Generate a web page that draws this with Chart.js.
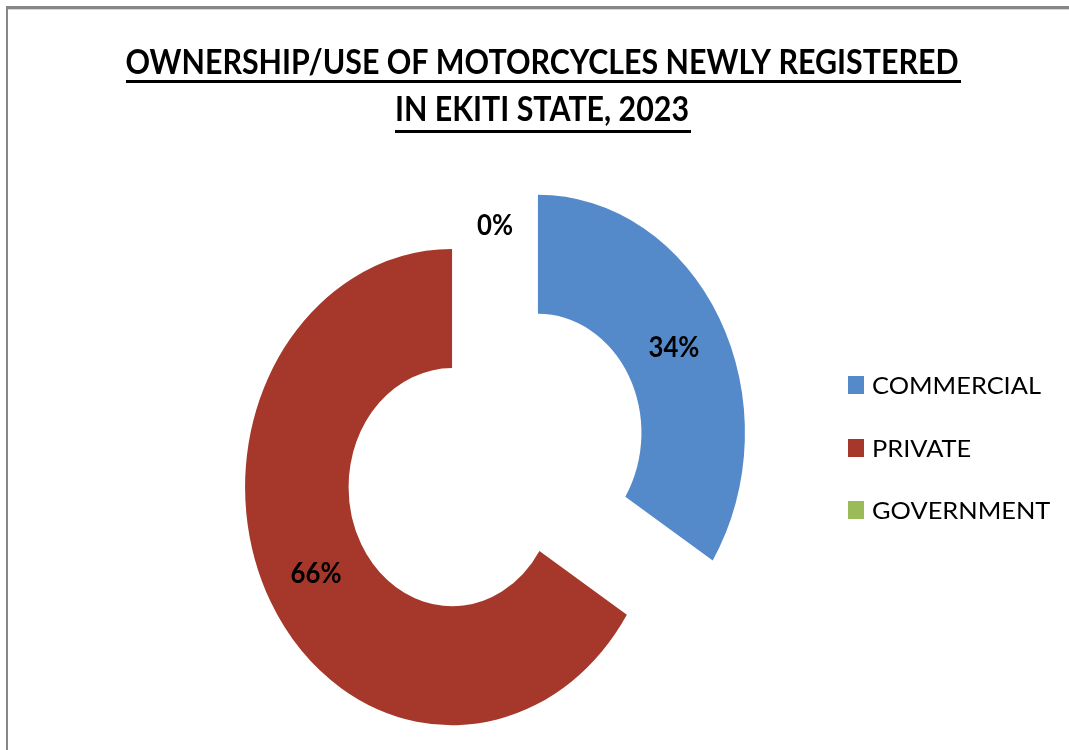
<!DOCTYPE html>
<html>
<head>
<meta charset="utf-8">
<script src="https://cdn.jsdelivr.net/npm/chart.js@4/dist/chart.umd.min.js"></script>
<style>
  html, body { margin: 0; padding: 0; background: #fff; }
  #wrap { position: relative; width: 1069px; height: 750px; overflow: hidden; }
  #frame {
    position: absolute; left: 6px; top: 6px; width: 1100px; height: 800px;
    border-top: 3px solid #878787; border-left: 2px solid #878787;
    box-shadow: inset 0 1px 0 #d6d6d6;
  }
  #chart { position: absolute; left: 0; top: 0; }
</style>
</head>
<body>
<div id="wrap">
  <div id="frame"></div>
  <canvas id="chart" width="1069" height="750"></canvas>
</div>
<script>
// data
const categories = ['COMMERCIAL', 'PRIVATE', 'GOVERNMENT'];
const shares = [34, 66, 0];
const colours = ['#558ACA', '#A5382A', '#9BBB59'];
const titleLines = ['OWNERSHIP/USE OF MOTORCYCLES NEWLY REGISTERED', 'IN EKITI STATE, 2023'];

const FONT = "Lato, 'Open Sans', 'DejaVu Sans', sans-serif";
const STRETCH = 1.15;   // the source picture is taller than wide
const EXPLODE = 49;     // exploded slices

// work out x/y scale so a string fills a given width and cap height
const textScale = (ctx, font, text, width, cap) => {
  ctx.font = font;
  const capH = ctx.measureText('H').actualBoundingBoxAscent;
  return { sx: width / ctx.measureText(text).width, sy: cap / capH };
};

// draws the text and returns its drawn width
const drawScaled = (ctx, text, x, baseline, font, sc, align) => {
  ctx.save();
  ctx.font = font;
  ctx.textAlign = align;
  ctx.textBaseline = 'alphabetic';
  const w = ctx.measureText(text).width * sc.sx;
  ctx.translate(x, baseline);
  ctx.scale(sc.sx, sc.sy);
  ctx.fillText(text, 0, 0);
  ctx.restore();
  return w;
};

// draw each arc ourselves so it can be pulled out and stretched
const explodePlugin = {
  id: 'explode',
  beforeDatasetDraw(chart, args) {
    const ctx = chart.ctx;
    args.meta.data.forEach(arc => {
      const mid = (arc.startAngle + arc.endAngle) / 2;
      ctx.save();
      ctx.translate(arc.x, arc.y);
      ctx.scale(1, STRETCH);
      ctx.translate(-arc.x, -arc.y);
      ctx.translate(Math.cos(mid) * EXPLODE, Math.sin(mid) * EXPLODE);
      arc.draw(ctx);
      ctx.restore();
    });
    return false;
  }
};

// title, legend and percentage labels
const textPlugin = {
  id: 'texts',
  afterDraw(chart) {
    const ctx = chart.ctx;
    ctx.fillStyle = '#000';

    // title, underlined
    const tFont = 'bold 40px ' + FONT;
    const tScale = textScale(ctx, tFont, titleLines[0], 833, 25.5);
    const tCenter = 542;
    [[titleLines[0], 74, 80], [titleLines[1], 121, 130]].forEach(([txt, base, ul]) => {
      const w = drawScaled(ctx, txt, tCenter, base, tFont, tScale, 'center');
      ctx.fillRect(Math.round(tCenter - w / 2), ul, Math.round(w + 2), 3);
    });

    // legend
    const lFont = '30px ' + FONT;
    const lScale = textScale(ctx, lFont, categories[0], 169, 17.5);
    categories.forEach((cat, i) => {
      const base = 394 + i * 62.5;
      ctx.fillStyle = colours[i];
      ctx.fillRect(848, Math.round(base - 18), 16, 18);
      ctx.fillStyle = '#000';
      drawScaled(ctx, cat, 872, base, lFont, lScale, 'left');
    });

    // percentage labels at the middle of each ring slice
    const meta = chart.getDatasetMeta(0);
    const total = shares.reduce((a, b) => a + b, 0);
    const pFont = 'bold 30px ' + FONT;
    const pScale = textScale(ctx, pFont, '34%', 51, 20.5);
    meta.data.forEach((arc, i) => {
      const mid = (arc.startAngle + arc.endAngle) / 2;
      const r = (arc.innerRadius + arc.outerRadius) / 2 + EXPLODE;
      const x = arc.x + Math.cos(mid) * r;
      const y = arc.y + Math.sin(mid) * r * STRETCH;
      const label = Math.round(shares[i] / total * 100) + '%';
      drawScaled(ctx, label, x, y + 10, pFont, pScale, 'center');
    });
  }
};

new Chart(document.getElementById('chart'), {
  type: 'doughnut',
  data: {
    labels: categories,
    datasets: [{
      data: shares,
      backgroundColor: colours,
      borderWidth: 0,
      clip: false
    }]
  },
  options: {
    responsive: false,
    animation: false,
    events: [],
    cutout: '50%',
    radius: 207,
    layout: { padding: { left: 0, right: 79, top: 170, bottom: 0 } },
    plugins: {
      legend: { display: false },
      title: { display: false },
      tooltip: { enabled: false }
    }
  },
  plugins: [explodePlugin, textPlugin]
});
</script>
</body>
</html>
